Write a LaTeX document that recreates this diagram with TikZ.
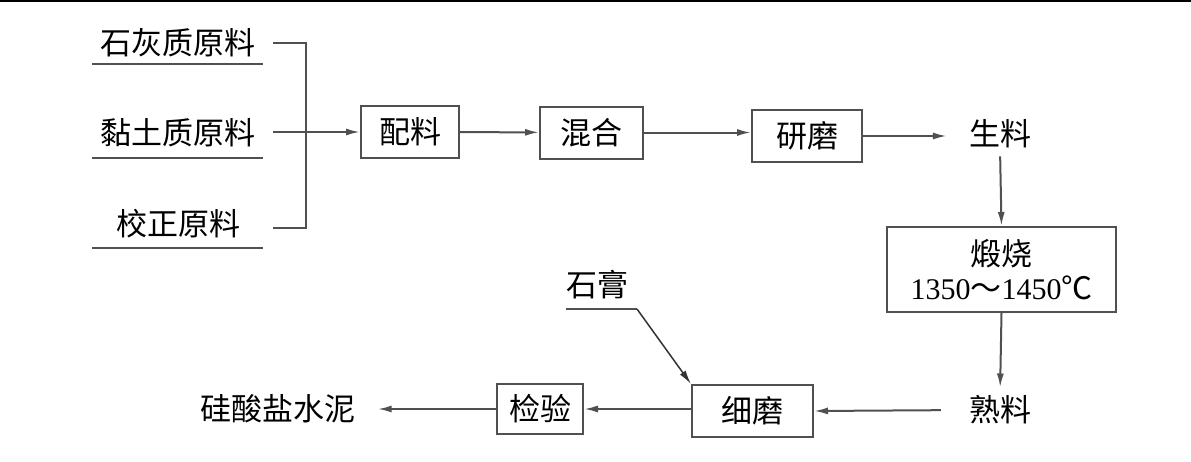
\documentclass[tikz,border=0pt]{standalone}
\usepackage{fontspec}
\setmainfont{Liberation Serif}
\newfontfamily\cjk{Noto Sans CJK SC}
\usetikzlibrary{arrows.meta}
\definecolor{linegray}{HTML}{505050}
\begin{document}
\begin{tikzpicture}[x=1pt,y=-1pt,
  txt/.style={font=\cjk\fontsize{31}{38}\selectfont, text=black},
  lbl/.style={txt, inner sep=0pt},
  procbox/.style={txt, draw=linegray, line width=2pt, inner sep=0pt, minimum height=52pt},
  conn/.style={draw=linegray, line width=2pt},
  arr/.style={conn, -{Latex[length=14pt,width=7pt]}}]
\useasboundingbox (0,0) rectangle (1191,461);
\fill[white] (0,0) rectangle (1191,461);
\draw[black, line width=2.5pt] (0,1) -- (1191,1);

% raw materials
\node[lbl] (r1) at (178,43) {石灰质原料};
\node[lbl] (r2) at (178,133) {黏土质原料};
\node[lbl] (r3) at (178,224) {校正原料};
\coordinate (u1a) at (92,64);  \coordinate (u1b) at (263,64);
\coordinate (u2a) at (92,158); \coordinate (u2b) at (263,158);
\coordinate (u3a) at (92,248); \coordinate (u3b) at (263,248);
\draw[conn] (u1a) -- (u1b);
\draw[conn] (u2a) -- (u2b);
\draw[conn] (u3a) -- (u3b);
\coordinate (b1) at (273,43);  \coordinate (j1) at (306,43);
\coordinate (b2) at (273,132);
\coordinate (b3) at (273,228); \coordinate (j3) at (306,228);
\draw[conn] (b1) -- (j1) -- (j3) -- (b3);

% top row
\node[procbox, minimum width=98pt] (peiliao) at (410,132) {配料};
\node[procbox, minimum width=103pt] (hunhe) at (591.5,132.5) {混合};
\node[procbox, minimum width=110pt] (yanmo) at (807,136) {研磨};
\node[lbl] (shengliao) at (1000,134) {生料};
\draw[arr] (b2) -- (peiliao.west |- b2);
\draw[arr] (peiliao) -- (hunhe);
\draw[arr] (hunhe.east) -- (yanmo.west |- hunhe.east);
\draw[arr, shorten >=22pt] (yanmo.east) -- (shengliao.west |- yanmo.east);

% right column
\node[procbox, minimum width=229pt, minimum height=85pt, align=center] (duanshao) at (1001.5,269.5)
  {煅烧\\[-4pt]{\rmfamily\fontsize{30}{36}\selectfont 1350}～{\rmfamily\fontsize{30}{36}\selectfont 1450}℃};
\node[lbl] (shuliao) at (1000,410) {熟料};
\draw[arr, shorten <=8pt] (shengliao.south) -- (duanshao.north);
\draw[arr, shorten >=8pt] (duanshao.south) -- (shuliao.north);

% bottom row
\node[procbox, minimum width=121pt] (ximo) at (752.5,411) {细磨};
\node[procbox, minimum width=86pt, minimum height=50pt] (jianyan) at (540,409) {检验};
\node[lbl] (cement) at (278,409) {硅酸盐水泥};
\node[lbl] (shigao) at (597,285) {石膏};
\coordinate (sga) at (566,309); \coordinate (sgb) at (637,309);
\draw[conn] (sga) -- (sgb);
\draw[arr, draw=black!80, line width=1.5pt] (sgb) -- (ximo.north west);
\draw[arr, shorten <=28pt] (shuliao.west) -- (ximo.east);
\draw[arr] (ximo.west |- jianyan.east) -- (jianyan.east);
\draw[arr, shorten >=22pt] (jianyan.west) -- (cement.east);
\end{tikzpicture}
\end{document}
